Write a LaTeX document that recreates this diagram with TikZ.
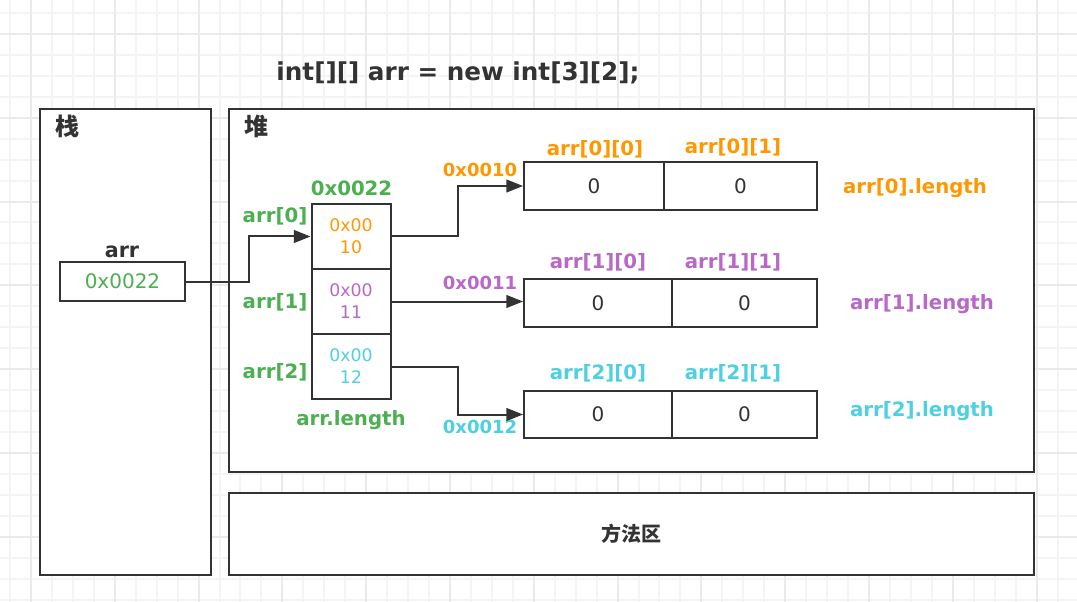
\documentclass[tikz,border=0pt]{standalone}
\usepackage{fontspec}
\setmainfont{DejaVu Sans}
\newfontfamily\cjk{Noto Sans CJK SC}
\usetikzlibrary{arrows.meta,calc}
\definecolor{dk}{HTML}{333333}
\definecolor{gr}{HTML}{4CAF50}
\definecolor{og}{HTML}{FF9800}
\definecolor{pu}{HTML}{BA68C8}
\definecolor{cy}{HTML}{4DD0E1}
\definecolor{gminor}{HTML}{F4F4F4}
\definecolor{gmajor}{HTML}{EAEAEA}
\begin{document}
\begin{tikzpicture}[x=0.75pt,y=-0.75pt,
  box/.style={draw=dk, line width=1.5pt, fill=white, inner sep=0, rectangle},
  lbl/.style={font=\bfseries\fontsize{14.8}{17}\selectfont, inner sep=0},
  adr/.style={font=\bfseries\fontsize{13.5}{16}\selectfont, inner sep=0},
  cjkl/.style={font=\cjk\bfseries\fontsize{18}{20}\selectfont, text=dk, inner sep=0},
  cellbox/.style={box, minimum width={79*.75pt}, minimum height={65*.75pt}, align=center, font=\fontsize{13}{16.5}\selectfont},
  valbox/.style={box, text=dk, font=\fontsize{15}{17}\selectfont},
  conn/.style={draw=dk, line width=1.5pt, -{Triangle[length=12.5pt,width=9.5pt]}},
  gmin/.style={draw=gminor, line width=1.5pt},
  gmaj/.style={draw=gmajor, line width=1.5pt}
]
\useasboundingbox (0,0) rectangle (1077,602);
\fill[white] (0,0) rectangle (1077,602);
% grid
\foreach \i in {0,...,51} { \draw[gmin] ({10+\i*20.95},0) -- ({10+\i*20.95},602); }
\foreach \i in {0,...,28} { \draw[gmin] (0,{13+\i*20.95}) -- (1077,{13+\i*20.95}); }
\foreach \i in {0,...,12} { \draw[gmaj] ({31+\i*83.8},0) -- ({31+\i*83.8},602); }
\foreach \i in {0,...,6} { \draw[gmaj] (0,{34+\i*83.8}) -- (1077,{34+\i*83.8}); }

% title
\node[font=\bfseries\fontsize{18.5}{22}\selectfont, text=dk, inner sep=0] (title) at (458,72.5) {int[][] arr = new int[3][2];};

% main areas
\node[box, minimum width={171*.75pt}, minimum height={466*.75pt}] (stack) at (125.5,342) {};
\node[box, minimum width={805.5*.75pt}, minimum height={363*.75pt}] (heap) at (631.25,290.5) {};
\node[box, minimum width={805.5*.75pt}, minimum height={82*.75pt}, font=\cjk\bfseries\fontsize{15}{18}\selectfont, text=dk] (method) at (631.25,534) {方法区};
\node[cjkl] (stacklbl) at (67,126) {栈};
\node[cjkl] (heaplbl) at (256,126) {堆};

% stack variable
\node[lbl, text=dk, font=\bfseries\fontsize{15.5}{17}\selectfont] (arrlbl) at (122,252) {arr};
\node[box, minimum width={125*.75pt}, minimum height={39*.75pt}, text=gr, font=\fontsize{15}{17}\selectfont] (ab) at (122.5,281.5) {0x0022};

% outer array
\node[lbl, text=gr] (addr22) at (351.5,188) {0x0022};
\node[cellbox, text=og] (c0) at (351,236.5) {0x00\\10};
\node[cellbox, text=pu] (c1) at (351,301.5) {0x00\\11};
\node[cellbox, text=cy] (c2) at (351,366.5) {0x00\\12};
\node[lbl, text=gr] (i0) at (275,216) {arr[0]};
\node[lbl, text=gr] (i1) at (275,302) {arr[1]};
\node[lbl, text=gr] (i2) at (275,372) {arr[2]};
\node[lbl, text=gr] (alen) at (351,420) {arr.length};

% inner arrays
\node[valbox, minimum width={140*.75pt}, minimum height={48*.75pt}] (r00) at (594,186) {0};
\node[valbox, minimum width={153*.75pt}, minimum height={48*.75pt}] (r01) at (740.5,186) {0};
\node[valbox, minimum width={148*.75pt}, minimum height={48*.75pt}] (r10) at (598,303) {0};
\node[valbox, minimum width={145*.75pt}, minimum height={48*.75pt}] (r11) at (744.5,303) {0};
\node[valbox, minimum width={148*.75pt}, minimum height={47*.75pt}] (r20) at (598,414.5) {0};
\node[valbox, minimum width={145*.75pt}, minimum height={47*.75pt}] (r21) at (744.5,414.5) {0};

\node[lbl, text=og] (l00) at (595,149.5) {arr[0][0]};
\node[lbl, text=og] (l01) at (733,147) {arr[0][1]};
\node[lbl, text=pu] (l10) at (598,262.5) {arr[1][0]};
\node[lbl, text=pu] (l11) at (733,262.5) {arr[1][1]};
\node[lbl, text=cy] (l20) at (598,373.5) {arr[2][0]};
\node[lbl, text=cy] (l21) at (733,373.5) {arr[2][1]};

\node[adr, text=og] (a10) at (480,170) {0x0010};
\node[adr, text=pu] (a11) at (480,283) {0x0011};
\node[adr, text=cy] (a12) at (480,427) {0x0012};

\node[lbl, text=og] (len0) at (915,188) {arr[0].length};
\node[lbl, text=pu] (len1) at (922,304) {arr[1].length};
\node[lbl, text=cy] (len2) at (922,411) {arr[2].length};

% connectors
\draw[conn] (ab.east) -- ++(63,0) |- (c0.west);
\draw[conn] (c0.east) -- ++(66,0) |- (r00.west);
\draw[conn] (c1.east) -- (c1.east -| r10.west);
\draw[conn] (c2.east) -- ++(66,0) |- (r20.west);
\end{tikzpicture}
\end{document}
